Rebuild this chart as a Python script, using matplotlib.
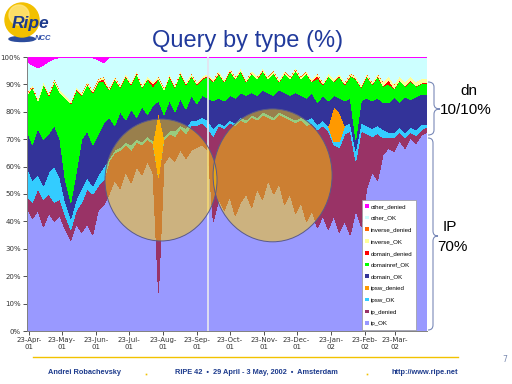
import numpy as np
import pandas as pd
import matplotlib
matplotlib.use("Agg")
import matplotlib.pyplot as plt
from matplotlib.patches import Ellipse, Circle, Patch, PathPatch
from matplotlib.path import Path

# ---- data: daily query mix, read every 5 days off the slide (percent) ----
dates = pd.date_range("2001-04-21", periods=74, freq="5D")

ip_ok = [45, 41, 44, 38, 43, 40, 42, 37, 33, 39, 36, 39, 35, 44,
         46, 50, 55, 52, 58, 54, 60, 57, 62, 58,
         14, 61, 64, 62, 66, 63, 66, 67, 68, 66,
         40, 48, 44, 49, 42, 47, 50, 45, 52, 48,
         55, 50, 54, 46, 50, 43, 47, 40, 44, 38,
         42, 37, 42, 36, 40, 35, 44, 38, 52, 58,
         55, 65, 68, 66, 70, 67, 71, 69, 72, 73]
ip_denied = [4, 6, 8, 10, 7, 7, 6, 5, 4, 5, 11, 13, 15, 9,
             9, 12, 10, 14, 10, 12, 9, 11, 8, 11,
             42, 9, 8, 9, 8, 9, 9, 8, 8, 8,
             31, 27, 30, 27, 33, 30, 26, 33, 25, 31,
             23, 27, 25, 32, 27, 33, 30, 35, 32, 36,
             33, 36, 26, 31, 32, 38, 18, 35, 20, 13,
             17, 6, 4, 5, 3, 4, 2, 3, 2, 2]
ipsw_ok = [11, 8, 5, 5, 8, 13, 8, 5, 4, 4, 5, 4, 3, 4,
           5, 1, 1, 1, 1, 2, 1, 1, 1, 1,
           0, 1, 1, 2, 1, 2, 2, 2, 2, 3,
           3, 1, 1, 1, 1, 1, 1, 1, 1, 1,
           1, 1, 1, 1, 1, 1, 1, 2, 2, 2,
           2, 2, 1, 2, 3, 3, 4, 3, 3, 3,
           3, 3, 2, 2, 2, 2, 2, 2, 2, 1]
ipsw_denied = [0] * 24 + [24] + [0] * 31 + [13, 11] + [0] * 16
domain_ok = [13, 13, 17, 17, 14, 15, 14, 8, 6, 10, 18, 17, 15, 15,
             16, 15, 9, 13, 8, 13, 8, 13, 8, 13,
             4, 8, 11, 7, 10, 7, 9, 6, 8, 8,
             10, 9, 9, 9, 9, 9, 9, 8, 8, 8,
             8, 8, 8, 8, 8, 10, 8, 8, 9, 8,
             9, 9, 4, 5, 9, 9, 4, 8, 10, 10,
             10, 10, 11, 13, 9, 13, 10, 12, 11, 11]
domainref_ok = [13, 21, 10, 20, 14, 16, 17, 30, 36, 30, 16, 17, 19, 19,
                15, 10, 17, 9, 16, 9, 16, 7, 13, 7,
                8, 9, 9, 9, 9, 9, 7, 7, 6, 8,
                7, 9, 7, 9, 7, 8, 5, 7, 6, 7,
                5, 8, 3, 7, 6, 8, 6, 9, 4, 9,
                4, 9, 5, 8, 6, 8, 22, 5, 8, 6,
                8, 6, 7, 3, 8, 4, 7, 4, 4, 4]
domain_denied = [0.2] * 14 + [1.0] + [0.2] * 8 + [1.0] + [0.2] * 29 + [1.0] + [0.2] * 12 + [1.5] + [0.2] * 7
inverse_ok = [0.8] * 65 + [1.5] * 9
inverse_denied = [0.1] * 74
other_ok = [11.4, 6.9, 10.9, 5.9, 11.4, 7.4, 11.6, 13.6, 15.6, 10.6, 12.6, 8.6, 11.6, 6.9,
            5.1, 10.6, 6.6, 9.6, 5.6, 8.6, 4.6, 9.6, 6.6, 8.6,
            6.6, 10.6, 5.6, 9.6, 4.6, 8.6, 5.6, 8.6, 6.6, 5.6,
            7.6, 4.6, 7.6, 3.6, 6.6, 3.6, 7.6, 4.6, 6.6, 3.6,
            6.6, 4.6, 7.6, 4.6, 6.6, 3.6, 6.6, 4.6, 7.6, 5.6,
            8.6, 5.6, 7.6, 5.6, 8.6, 5.6, 6.6, 9.6, 5.6, 8.6,
            5.6, 8.6, 6.6, 9.6, 6.6, 8.6, 6.6, 8.6, 7.6, 7.6]
other_denied = [1.5, 3, 4, 3, 1.5, 0.5, 0.3, 0.3, 0.3, 0.3, 0.3, 0.3, 0.3, 1, 2] + [0.3] * 59
missing_day = "2001-10-03"

names = ["ip_OK", "ip_denied", "ipsw_OK", "ipsw_denied", "domain_OK", "domainref_OK",
         "domain_denied", "inverse_OK", "inverse_denied", "other_OK", "other_denied"]
colors = ["#9999ff", "#993366", "#33ccff", "#ff9900", "#333399", "#00ff00",
          "#ff0000", "#ffff99", "#ff6600", "#ccffff", "#ff00ff"]

series = np.array([ip_ok, ip_denied, ipsw_ok, ipsw_denied, domain_ok, domainref_ok,
                   domain_denied, inverse_ok, inverse_denied, other_ok, other_denied], dtype=float)
pct = series / series.sum(axis=0) * 100  # 100% stacked

fig = plt.figure(figsize=(5.12, 3.84), dpi=100)
fig.patch.set_facecolor("white")

ax = fig.add_axes([27 / 512, 1 - 331 / 384, 400 / 512, 274 / 384])
ax.stackplot(dates, *pct, colors=colors, linewidth=0, antialiased=False)
ax.axvline(pd.Timestamp(missing_day), color="#e4e4f0", lw=1.3)

ax.set_xlim(pd.Timestamp("2001-04-21"), pd.Timestamp("2002-04-21"))
ax.set_ylim(0, 100)
ax.set_yticks(np.arange(0, 101, 10))
ax.set_yticklabels([f"{v}%" for v in range(0, 101, 10)])
ticks = pd.date_range("2001-04-23", periods=12, freq=pd.DateOffset(months=1))
ax.set_xticks(ticks)
ax.set_xticklabels([f"{d.day}-{d.strftime('%b')}-\n{d.strftime('%y')}" for d in ticks],
                   linespacing=1.1)
ax.tick_params(labelsize=5, colors="#333333", length=3, width=0.6, pad=1.5)
for s in ["top", "right"]:
    ax.spines[s].set_visible(False)
for s in ["left", "bottom"]:
    ax.spines[s].set_color("#808080")
    ax.spines[s].set_linewidth(0.7)

# the two highlight circles on the slide
for cx, cy, w, h in [(0.335, 0.551, 0.28, 0.445), (0.614, 0.568, 0.2975, 0.485)]:
    ax.add_patch(Ellipse((cx, cy), w, h, transform=ax.transAxes,
                         facecolor="#ffcc00", alpha=0.5, edgecolor="none", zorder=5))
    ax.add_patch(Ellipse((cx, cy), w, h, transform=ax.transAxes,
                         facecolor="none", edgecolor="#5a5a88", lw=0.7, zorder=6))

handles = [Patch(facecolor=c, edgecolor="none") for c in colors][::-1]
leg = ax.legend(handles, names[::-1], loc="lower left", bbox_to_anchor=(0.837, 0.004),
                prop={"family": "Liberation Sans", "size": 4.4},
                handlelength=0.55, handleheight=0.55, handletextpad=0.3,
                labelspacing=1.1, borderpad=0.6, borderaxespad=0,
                fancybox=False, framealpha=1)
leg.get_frame().set_edgecolor("#999999")
leg.get_frame().set_linewidth(0.5)
leg.set_zorder(10)

# ---- slide decoration in pixel coordinates ----
ov = fig.add_axes([0, 0, 1, 1], zorder=20)
ov.set_xlim(0, 512)
ov.set_ylim(384, 0)
ov.axis("off")
ov.patch.set_alpha(0)

# logo
ov.add_patch(Ellipse((22, 39), 26, 5, color="#2c4c9c"))
ov.add_patch(Circle((22, 20), 17, color="#f2c000"))
ov.add_patch(Circle((19, 15), 10, color="#ffe680", alpha=0.8))
ov.text(12, 28, "Ripe", fontsize=12.5, fontweight="bold", style="italic",
        color="#1c3a8c", family="Liberation Sans")
ov.text(35, 40, "NCC", fontsize=5.5, fontweight="bold", style="italic",
        color="#2a4aa8", family="Liberation Sans")

ov.text(248, 47, "Query by type (%)", fontsize=17, color="#213a9c",
        ha="center", va="baseline", family="Liberation Sans")


def brace(x0, x1, y0, y1, ym, color="#7a8ab8"):
    r = 5
    xm = (x0 + x1) / 2
    verts = [(x0, y0), (xm, y0), (xm, y0 + r),
             (xm, ym - r), (xm, ym), (x1, ym),
             (xm, ym), (xm, ym + r),
             (xm, y1 - r), (xm, y1), (x0, y1)]
    codes = [Path.MOVETO, Path.CURVE3, Path.CURVE3,
             Path.LINETO, Path.CURVE3, Path.CURVE3,
             Path.CURVE3, Path.CURVE3,
             Path.LINETO, Path.CURVE3, Path.CURVE3]
    ov.add_patch(PathPatch(Path(verts, codes), fill=False, edgecolor=color, lw=0.8))


brace(428, 440, 82, 135, 109)
brace(428, 438, 138, 330, 236)
ov.text(469, 91, "dn", fontsize=11, ha="center", va="center", family="Liberation Sans")
ov.text(466, 110, "10/10%", fontsize=11, ha="center", va="center", family="Liberation Sans")
ov.text(450, 227, "IP", fontsize=11, ha="center", va="center", family="Liberation Sans")
ov.text(452, 247, "70%", fontsize=11, ha="center", va="center", family="Liberation Sans")

# footer
ov.plot([33, 458], [357, 357], color="#f2c200", lw=1)
ov.text(505, 360, "7", fontsize=5.5, color="#7a8ab0", ha="center", va="center")
foot = dict(fontsize=5.3, fontweight="bold", color="#1c3a8c", va="center", family="Liberation Sans")
ov.text(48, 372, "Andrei Robachevsky", ha="left", **foot)
ov.text(256, 372, "RIPE 42  \u2022  29 April - 3 May, 2002  \u2022  Amsterdam", ha="center", **foot)
ov.text(425, 372, "http://www.ripe.net", ha="center", **foot)
ov.plot([146, 367], [374, 374], "s", color="#f2c200", ms=1.2, mew=0)

fig.savefig("out.png", dpi=100)
